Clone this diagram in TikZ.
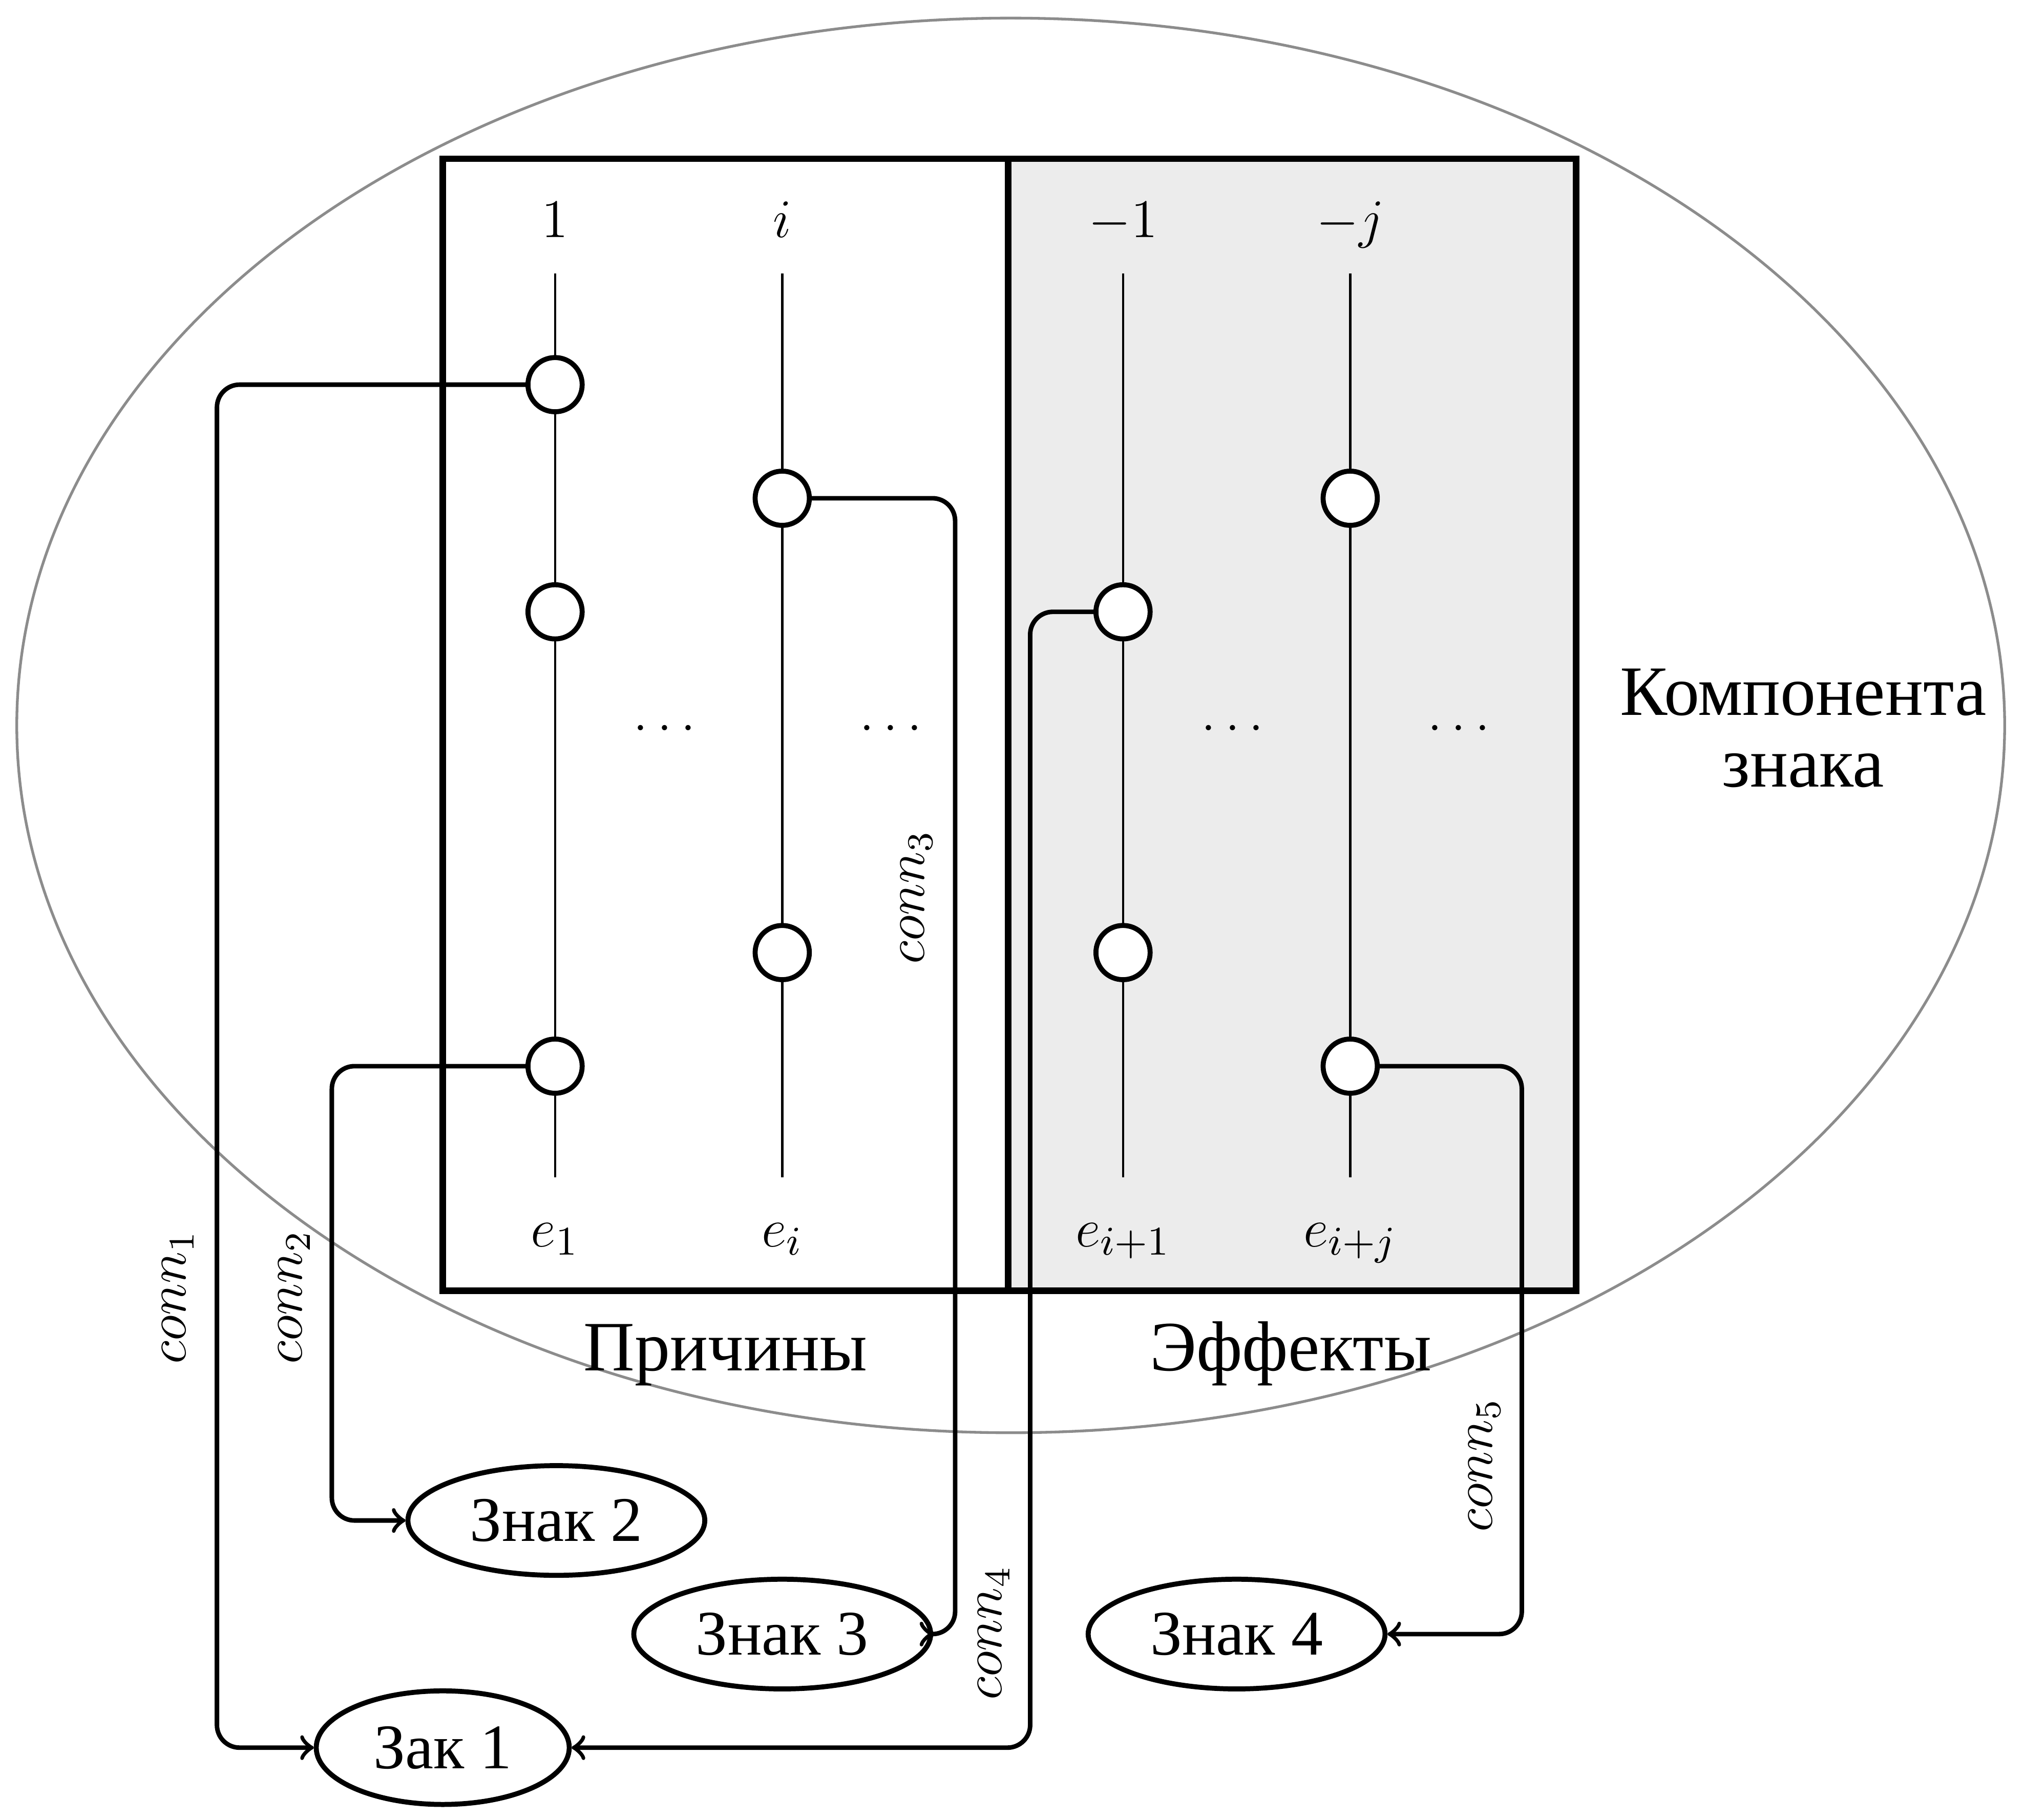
\documentclass[tikz,border=0pt]{standalone}
\usepackage[no-math]{fontspec}
\setmainfont{Liberation Serif}
\usetikzlibrary{shapes.geometric,positioning}
\tikzset{
  state/.style={draw, circle, fill=white, line width=1.1pt, minimum size=0.42cm, inner sep=0pt},
  sign/.style={draw, ellipse, line width=1.1pt, minimum width=2.3cm, minimum height=0.85cm,
    inner sep=0pt, font=\fontsize{14}{16}\selectfont},
  conn/.style={->, line width=1pt, rounded corners=5pt},
  connlabel/.style={rotate=90, font=\large},
  header/.style={font=\fontsize{12.4}{14}\selectfont, anchor=base},
  groupname/.style={font=\fontsize{15.6}{15.8}\selectfont, anchor=base},
  tline/.style={line width=0.5pt},
  boxline/.style={line width=1.4pt}
}

\begin{document}
\begin{tikzpicture}
  \useasboundingbox (0,0) rectangle (15.68,-14.10);
  \draw[black!45, line width=0.6pt] (7.83,-5.62) ellipse (7.70 and 5.48);
  % causes and effects
  \draw[boxline] (3.43,-1.23) rectangle (7.81,-10.00);
  \draw[boxline, fill=gray!15] (7.81,-1.23) rectangle (12.21,-10.00);
  \foreach \x/\n in {4.30/1, 6.06/2, 8.70/3, 10.46/4} {
    \coordinate (top\n) at (\x,-2.12);
    \coordinate (bot\n) at (\x,-9.12);
    \draw[tline] (top\n) -- (bot\n);
  }
  \node[header] (h1) at (4.30,-1.84) {$1$};
  \node[header] (h2) at (6.06,-1.84) {$i$};
  \node[header] (h3) at (8.70,-1.84) {$-1$};
  \node[header] (h4) at (10.46,-1.84) {$-j$};
  \node[header] (e1) at (4.30,-9.66) {$e_1$};
  \node[header] (e2) at (6.06,-9.66) {$e_i$};
  \node[header] (e3) at (8.70,-9.66) {$e_{i+1}$};
  \node[header] (e4) at (10.46,-9.66) {$e_{i+j}$};
  \foreach \x/\n in {5.15/1, 6.90/2, 9.55/3, 11.30/4}
    \node[header] (dots\n) at (\x,-5.66) {$\dots$};
  % states on the lines
  \node[state] (c11) at (4.30,-2.98) {};
  \node[state] (c12) at (4.30,-4.74) {};
  \node[state] (c13) at (4.30,-8.26) {};
  \node[state] (c21) at (6.06,-3.86) {};
  \node[state] (c22) at (6.06,-7.38) {};
  \node[state] (c31) at (8.70,-4.74) {};
  \node[state] (c32) at (8.70,-7.38) {};
  \node[state] (c41) at (10.46,-3.86) {};
  \node[state] (c42) at (10.46,-8.26) {};
  \node[groupname] (causes) at (5.62,-10.62) {Причины};
  \node[groupname] (effects) at (10.00,-10.62) {Эффекты};
  \node[font=\fontsize{15.6}{15.8}\selectfont, align=center] (comp) at (13.97,-5.64) {Компонента\\знака};
  % signs
  \node[sign] (z2) at (4.31,-11.78) {Знак 2};
  \node[sign] (z3) at (6.06,-12.66) {Знак 3};
  \node[sign] (z4) at (9.58,-12.66) {Знак 4};
  \node[sign, minimum width=1.96cm, minimum height=0.88cm] (z1) at (3.43,-13.54) {Зак 1};
  \draw[conn] (c11.west) -- ++(-2.39,0) |- (z1.west);
  \draw[conn] (c13.west) -- ++(-1.50,0) |- (z2.west);
  \draw[conn] (c21.east) -- ++(1.11,0) |- (z3.east);
  \draw[conn] (c31.west) -- ++(-0.49,0) |- (z1.east);
  \draw[conn] (c42.east) -- ++(1.10,0) |- (z4.east);
  \node[connlabel] (l1) at (1.38,-10.05) {$conn_1$};
  \node[connlabel] (l2) at (2.28,-10.05) {$conn_2$};
  \node[connlabel] (l3) at (7.10,-6.95) {$conn_3$};
  \node[connlabel] (l4) at (7.70,-12.65) {$conn_4$};
  \node[connlabel] (l5) at (11.50,-11.35) {$conn_5$};
\end{tikzpicture}
\end{document}
